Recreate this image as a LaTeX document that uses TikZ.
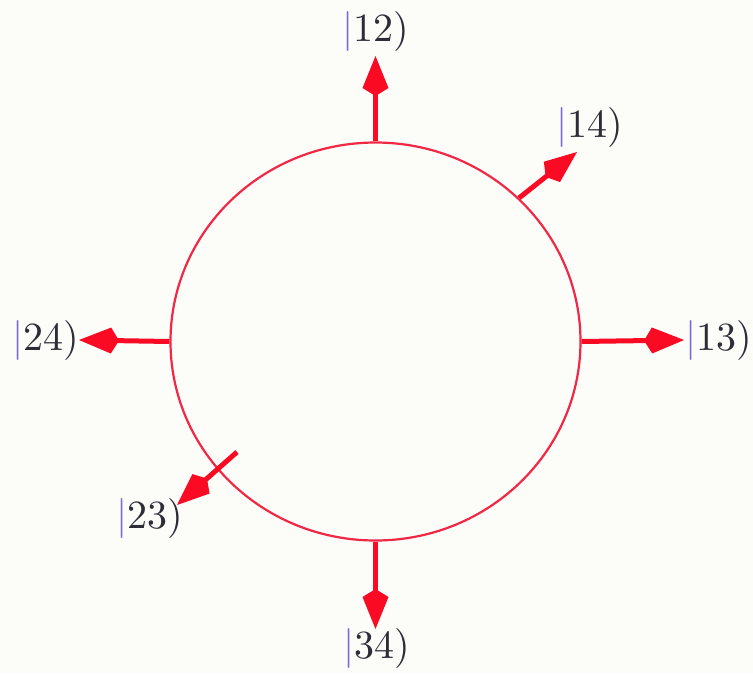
\documentclass[tikz,border=0pt]{standalone}
\usepackage{fontspec}
\setmainfont{lmroman10-regular.otf}
\usetikzlibrary{arrows.meta,shapes.geometric}
\definecolor{ringcol}{RGB}{240,40,70}
\definecolor{arrcol}{RGB}{250,10,35}
\definecolor{barcol}{RGB}{120,105,215}
\definecolor{txtcol}{RGB}{45,45,55}
\definecolor{bgcol}{RGB}{252,252,249}
\newcommand{\myket}[1]{\textcolor{barcol}{|}#1)}
\begin{document}
\begin{tikzpicture}[x=1pt,y=-1pt,
  lbl/.style={text=txtcol,font=\fontsize{40}{48}\selectfont,inner sep=0pt},
  arr/.style={draw=arrcol,line width=5pt,-{Kite[length=40pt,width=26pt,inset=8pt]}}]
\fill[bgcol] (0,0) rectangle (753,673);
\useasboundingbox (0,0) rectangle (753,673);
\node[ellipse,draw=ringcol,line width=2.2pt,minimum width=410pt,minimum height=398pt,inner sep=0pt] (ring) at (375.5,341.5) {};
\node[lbl] (l12) at (376,31) {\myket{12}};
\node[lbl] (l14) at (590,127) {\myket{14}};
\node[lbl] (l13) at (719,340) {\myket{13}};
\node[lbl] (l24) at (46,340) {\myket{24}};
\node[lbl] (l23) at (150,518) {\myket{23}};
\node[lbl] (l34) at (377,648) {\myket{34}};
\coordinate (t12) at (375.5,56);
\coordinate (t14) at (577,152);
\coordinate (t13) at (684,340);
\coordinate (t24) at (79,340);
\coordinate (s23) at (237,452);
\coordinate (t23) at (177,505);
\coordinate (t34) at (375.5,629);
\draw[arr] (ring.north) -- (t12);
\draw[arr] (ring.45) -- (t14);
\draw[arr] (ring.east) -- (t13);
\draw[arr] (ring.west) -- (t24);
\draw[arr] (s23) -- (t23);
\draw[arr] (ring.south) -- (t34);
\end{tikzpicture}
\end{document}
